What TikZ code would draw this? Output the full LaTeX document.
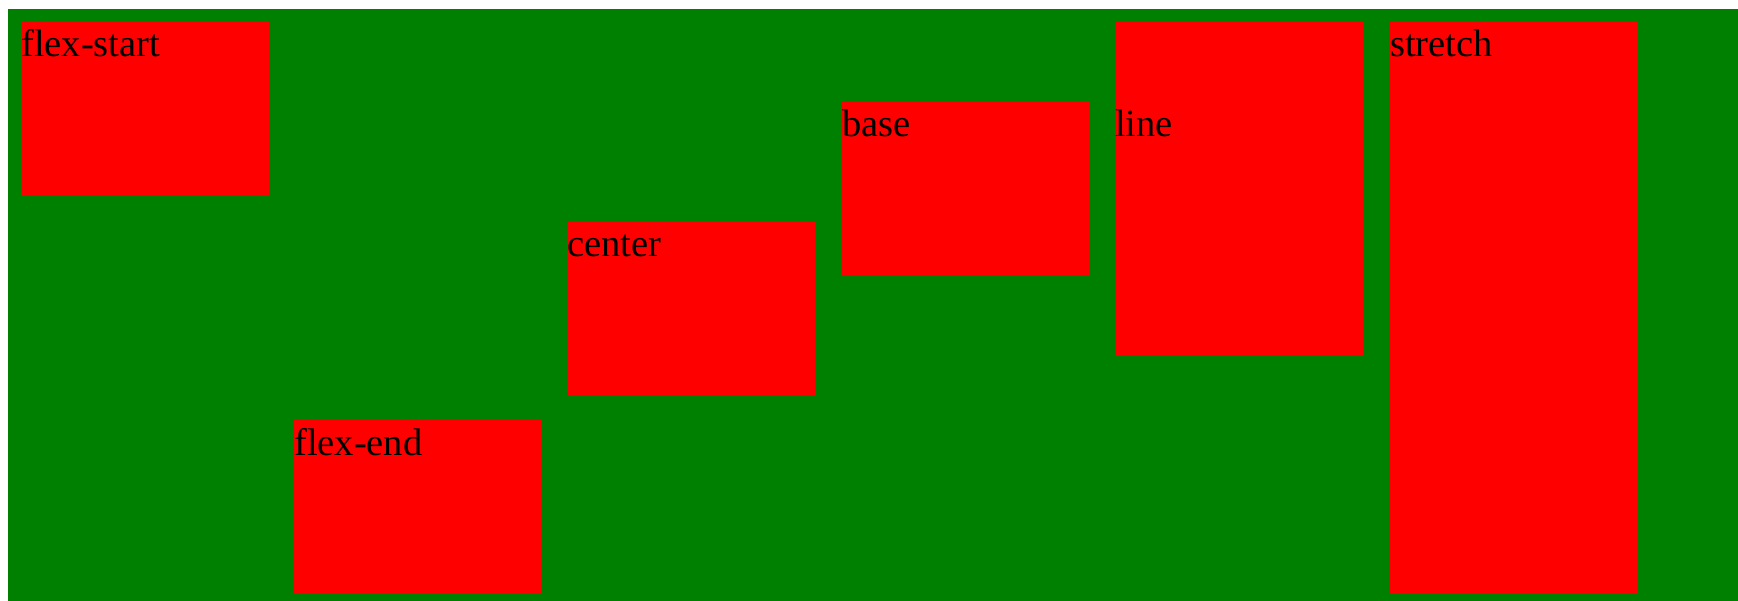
\documentclass[tikz,border=0pt]{standalone}
\usepackage{fontspec}
\setmainfont{Liberation Serif}
\definecolor{bggreen}{RGB}{0,128,0}
\definecolor{boxred}{RGB}{255,0,0}
\tikzset{
  itembox/.style={fill=boxred, draw=none, inner sep=0pt, anchor=north west,
    minimum width=248pt, minimum height=174pt},
  itemtext/.style={anchor=base west, inner sep=0pt, text=black,
    font=\fontsize{38.5}{44}\selectfont}
}
\begin{document}
\begin{tikzpicture}[x=1pt,y=-1pt]
\useasboundingbox (0,0) rectangle (1738,601);
\fill[white] (0,0) rectangle (1738,601);
\fill[bggreen] (8,9) rectangle (1738,601);
% boxes
\node[itembox] (fs) at (21,21) {};
\node[itembox] (fe) at (294,420) {};
\node[itembox] (ce) at (567,221) {};
\node[itembox] (ba) at (842,101) {};
\node[itembox, minimum height=334pt] (li) at (1115,21) {};
\node[itembox, minimum height=573pt] (st) at (1390,21) {};
% labels
\node[itemtext] (tfs) at ([yshift=-36pt]fs.north west) {flex-start};
\node[itemtext] (tfe) at ([yshift=-36pt]fe.north west) {flex-end};
\node[itemtext] (tce) at ([yshift=-36pt]ce.north west) {center};
\node[itemtext] (tba) at ([yshift=-36pt]ba.north west) {base};
\node[itemtext] (tli) at ([yshift=-116pt]li.north west) {line};
\node[itemtext] (tst) at ([yshift=-36pt]st.north west) {stretch};
\end{tikzpicture}
\end{document}
